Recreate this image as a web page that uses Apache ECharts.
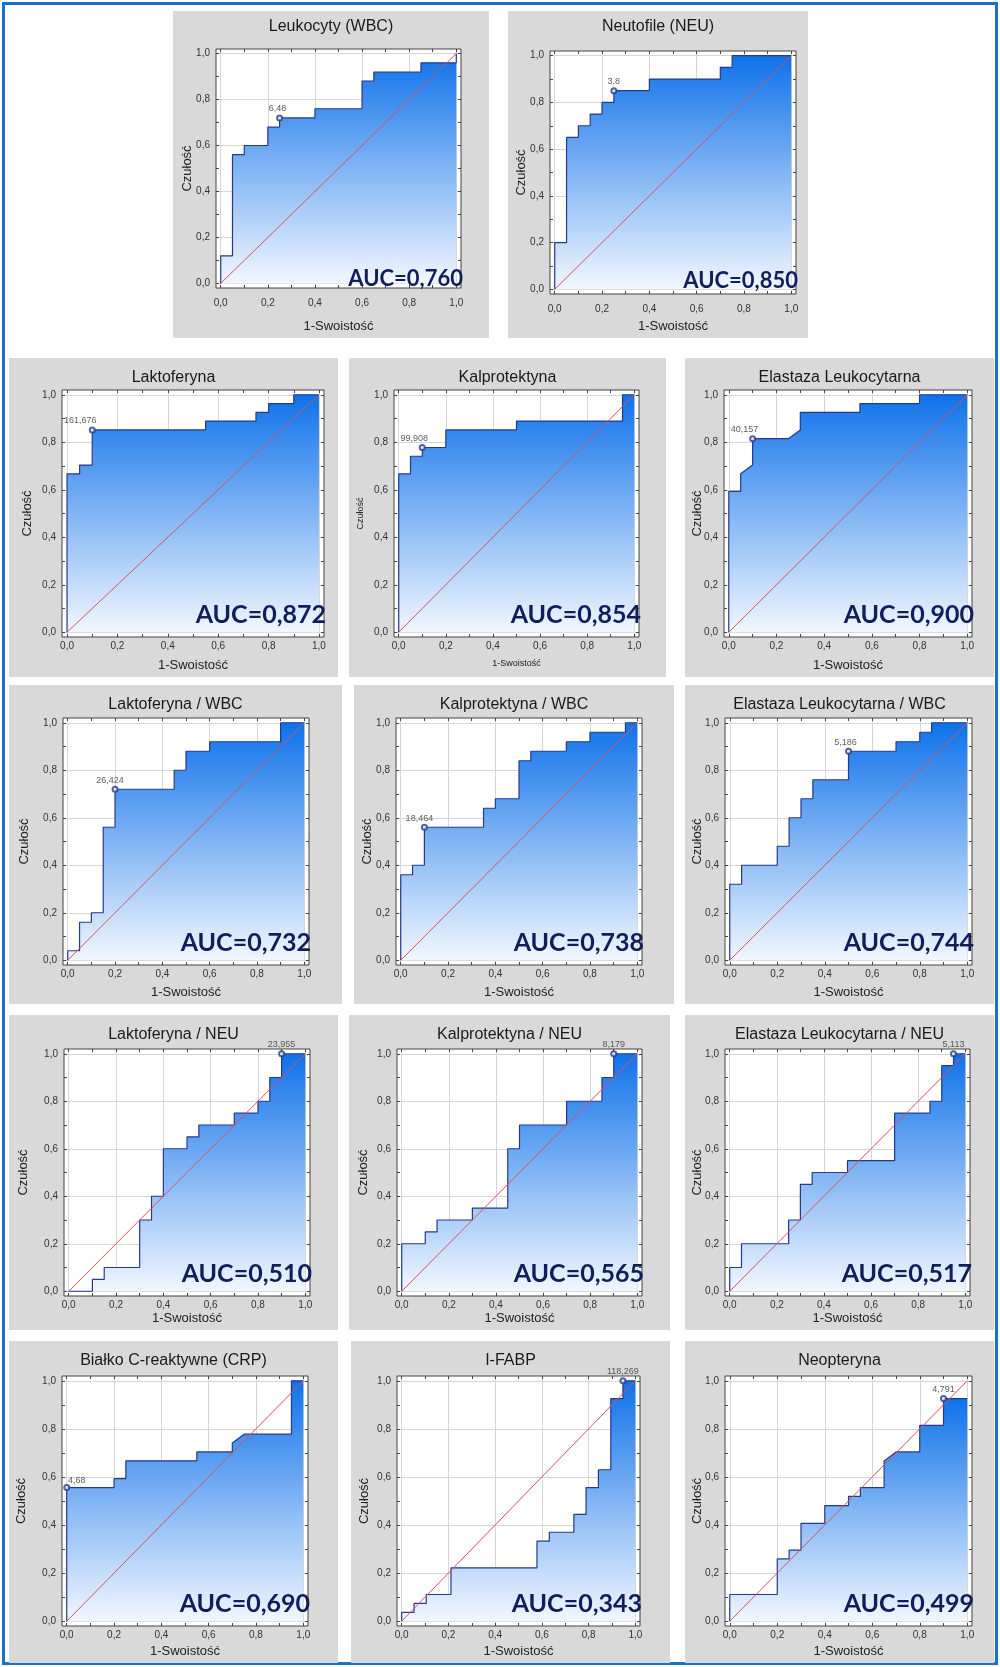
<!DOCTYPE html>
<html>
<head>
<meta charset="utf-8">
<script src="https://cdn.jsdelivr.net/npm/echarts@6/dist/echarts.min.js"></script>
<style>
  body { margin: 0; background: #fff; }
  #frame { position: absolute; left: 2px; top: 2px; width: 990px; height: 1657px; border: 3px solid #1a73c8; }
  .panel { position: absolute; background: #d9d9d9; }
</style>
</head>
<body>
<div id="frame"></div>
<script>
// ROC curves: x = 1-Swoistość, y = Czułość
var leukX = [0, 0, 0.05, 0.05, 0.10, 0.10, 0.20, 0.20, 0.25, 0.25, 0.40, 0.40, 0.60, 0.60, 0.65, 0.65, 0.85, 0.85, 1.0, 1.0];
var leukY = [0, 0.12, 0.12, 0.56, 0.56, 0.60, 0.60, 0.68, 0.68, 0.72, 0.72, 0.76, 0.76, 0.88, 0.88, 0.92, 0.92, 0.96, 0.96, 1.0];
var neuX = [0, 0, 0.05, 0.05, 0.10, 0.10, 0.15, 0.15, 0.20, 0.20, 0.25, 0.25, 0.40, 0.40, 0.70, 0.70, 0.75, 0.75, 1.0];
var neuY = [0, 0.20, 0.20, 0.65, 0.65, 0.70, 0.70, 0.75, 0.75, 0.80, 0.80, 0.85, 0.85, 0.90, 0.90, 0.95, 0.95, 1.0, 1.0];
var laktX = [0, 0, 0.05, 0.05, 0.10, 0.10, 0.55, 0.55, 0.75, 0.75, 0.80, 0.80, 0.90, 0.90, 1.0];
var laktY = [0, 0.667, 0.667, 0.704, 0.704, 0.852, 0.852, 0.889, 0.889, 0.926, 0.926, 0.963, 0.963, 1.0, 1.0];
var kalpX = [0, 0, 0.05, 0.05, 0.10, 0.10, 0.20, 0.20, 0.50, 0.50, 0.95, 0.95, 1.0];
var kalpY = [0, 0.667, 0.667, 0.741, 0.741, 0.778, 0.778, 0.852, 0.852, 0.889, 0.889, 1.0, 1.0];
var elastX = [0, 0, 0.05, 0.05, 0.10, 0.10, 0.25, 0.30, 0.30, 0.55, 0.55, 0.80, 0.80, 1.0];
var elastY = [0, 0.593, 0.593, 0.667, 0.704, 0.815, 0.815, 0.852, 0.926, 0.926, 0.963, 0.963, 1.0, 1.0];
var laktWbcX = [0, 0, 0.05, 0.05, 0.10, 0.10, 0.15, 0.15, 0.20, 0.20, 0.45, 0.45, 0.50, 0.50, 0.60, 0.60, 0.90, 0.90, 1.0];
var laktWbcY = [0, 0.04, 0.04, 0.16, 0.16, 0.20, 0.20, 0.56, 0.56, 0.72, 0.72, 0.80, 0.80, 0.88, 0.88, 0.92, 0.92, 1.0, 1.0];
var kalpWbcX = [0, 0, 0.05, 0.05, 0.10, 0.10, 0.35, 0.35, 0.40, 0.40, 0.50, 0.50, 0.55, 0.55, 0.70, 0.70, 0.80, 0.80, 0.95, 0.95, 1.0];
var kalpWbcY = [0, 0.36, 0.36, 0.40, 0.40, 0.56, 0.56, 0.64, 0.64, 0.68, 0.68, 0.84, 0.84, 0.88, 0.88, 0.92, 0.92, 0.96, 0.96, 1.0, 1.0];
var elastWbcX = [0, 0, 0.05, 0.05, 0.20, 0.20, 0.25, 0.25, 0.30, 0.30, 0.35, 0.35, 0.50, 0.50, 0.70, 0.70, 0.80, 0.80, 0.85, 0.85, 1.0];
var elastWbcY = [0, 0.32, 0.32, 0.40, 0.40, 0.48, 0.48, 0.60, 0.60, 0.68, 0.68, 0.76, 0.76, 0.88, 0.88, 0.92, 0.92, 0.96, 0.96, 1.0, 1.0];
var laktNeuX = [0, 0.10, 0.10, 0.15, 0.15, 0.30, 0.30, 0.35, 0.35, 0.40, 0.40, 0.50, 0.50, 0.55, 0.55, 0.70, 0.70, 0.80, 0.80, 0.85, 0.85, 0.90, 0.90, 1.0];
var laktNeuY = [0, 0, 0.05, 0.05, 0.10, 0.10, 0.30, 0.30, 0.40, 0.40, 0.60, 0.60, 0.65, 0.65, 0.70, 0.70, 0.75, 0.75, 0.80, 0.80, 0.90, 0.90, 1.0, 1.0];
var kalpNeuX = [0, 0, 0.10, 0.10, 0.15, 0.15, 0.30, 0.30, 0.45, 0.45, 0.50, 0.50, 0.70, 0.70, 0.85, 0.85, 0.90, 0.90, 1.0];
var kalpNeuY = [0, 0.20, 0.20, 0.25, 0.25, 0.30, 0.30, 0.35, 0.35, 0.60, 0.60, 0.70, 0.70, 0.80, 0.80, 0.90, 0.90, 1.0, 1.0];
var elastNeuX = [0, 0, 0.05, 0.05, 0.25, 0.25, 0.30, 0.30, 0.35, 0.35, 0.50, 0.50, 0.70, 0.70, 0.85, 0.85, 0.90, 0.90, 0.95, 0.95, 1.0];
var elastNeuY = [0, 0.10, 0.10, 0.20, 0.20, 0.30, 0.30, 0.45, 0.45, 0.50, 0.50, 0.55, 0.55, 0.75, 0.75, 0.80, 0.80, 0.95, 0.95, 1.0, 1.0];
var crpX = [0, 0, 0.20, 0.20, 0.25, 0.25, 0.55, 0.55, 0.70, 0.70, 0.75, 0.95, 0.95, 1.0];
var crpY = [0, 0.556, 0.556, 0.593, 0.593, 0.667, 0.667, 0.704, 0.704, 0.741, 0.778, 0.778, 1.0, 1.0];
var fabpX = [0, 0, 0.053, 0.053, 0.105, 0.105, 0.211, 0.211, 0.579, 0.579, 0.632, 0.632, 0.737, 0.737, 0.789, 0.789, 0.842, 0.842, 0.895, 0.895, 0.947, 0.947, 1.0];
var fabpY = [0, 0.037, 0.037, 0.074, 0.074, 0.111, 0.111, 0.222, 0.222, 0.333, 0.333, 0.370, 0.370, 0.444, 0.444, 0.556, 0.556, 0.630, 0.630, 0.926, 0.926, 1.0, 1.0];
var neoX = [0, 0, 0.20, 0.20, 0.25, 0.25, 0.30, 0.30, 0.40, 0.40, 0.50, 0.50, 0.55, 0.55, 0.65, 0.65, 0.70, 0.80, 0.80, 0.90, 0.90, 1.0];
var neoY = [0, 0.111, 0.111, 0.259, 0.259, 0.296, 0.296, 0.407, 0.407, 0.481, 0.481, 0.519, 0.519, 0.556, 0.556, 0.667, 0.704, 0.704, 0.815, 0.815, 0.926, 0.926];

var titles = ['Leukocyty (WBC)', 'Neutofile (NEU)', 'Laktoferyna', 'Kalprotektyna', 'Elastaza Leukocytarna',
  'Laktoferyna / WBC', 'Kalprotektyna / WBC', 'Elastaza Leukocytarna / WBC',
  'Laktoferyna / NEU', 'Kalprotektyna / NEU', 'Elastaza Leukocytarna / NEU',
  'Białko C-reaktywne (CRP)', 'I-FABP', 'Neopteryna'];
var aucLabels = ['AUC=0,760', 'AUC=0,850', 'AUC=0,872', 'AUC=0,854', 'AUC=0,900',
  'AUC=0,732', 'AUC=0,738', 'AUC=0,744', 'AUC=0,510', 'AUC=0,565', 'AUC=0,517',
  'AUC=0,690', 'AUC=0,343', 'AUC=0,499'];
// optimal cut-off points
var cutX = [0.25, 0.25, 0.10, 0.10, 0.10, 0.20, 0.10, 0.50, 0.90, 0.90, 0.95, 0, 0.947, 0.90];
var cutY = [0.72, 0.85, 0.852, 0.778, 0.815, 0.72, 0.56, 0.88, 1.0, 1.0, 1.0, 0.556, 1.0, 0.926];
var cutLabels = ['6,48', '3,8', '161,676', '99,908', '40,157', '26,424', '18,464', '5,186',
  '23,955', '8,179', '5,113', '4,68', '118,269', '4,791'];
var xCurves = [leukX, neuX, laktX, kalpX, elastX, laktWbcX, kalpWbcX, elastWbcX, laktNeuX, kalpNeuX, elastNeuX, crpX, fabpX, neoX];
var yCurves = [leukY, neuY, laktY, kalpY, elastY, laktWbcY, kalpWbcY, elastWbcY, laktNeuY, kalpNeuY, elastNeuY, crpY, fabpY, neoY];

var tickLabels = [0, 0.2, 0.4, 0.6, 0.8, 1];
var fineTicks = [0, 0.1, 0.2, 0.3, 0.4, 0.5, 0.6, 0.7, 0.8, 0.9, 1];

// panel box: left, top, width, height, grid left, right, top, bottom, y-name centre from panel left
var boxes = [
  [173, 11, 316, 327, 43, 28, 38, 50, 14],
  [508, 11, 300, 327, 42, 12, 40, 44, 13],
  [9, 358, 329, 319, 53, 14, 32, 40, 18],
  [349, 358, 317, 319, 45, 27, 32, 40, 12],
  [685, 358, 309, 319, 39, 22, 32, 40, 12],
  [9, 685, 333, 319, 54, 33, 33, 39, 15],
  [354, 685, 320, 319, 42, 32, 33, 39, 13],
  [685, 685, 309, 319, 40, 22, 33, 39, 12],
  [9, 1015, 329, 315, 55, 28, 34, 34, 14],
  [349, 1015, 321, 315, 48, 28, 34, 34, 14],
  [685, 1015, 309, 315, 40, 24, 34, 34, 12],
  [9, 1341, 329, 322, 53, 30, 35, 37, 12],
  [351, 1341, 319, 322, 46, 30, 35, 37, 13],
  [685, 1341, 309, 322, 40, 22, 35, 37, 12]
];
var cutOffsets = [[-2, 0], [0, 0], [-12, 0], [-8, 0], [-8, 0], [-5, 0], [-5, 0], [-3, 0],
  [0, 0], [0, 0], [0, 0], [10, 2], [0, 0], [0, 0]];
// distance of the AUC text above the grid bottom
var aucLift = [-2, 2, 10, 10, 10, 10, 10, 10, 10, 10, 10, 10, 10, 10];

var FONT = 'Liberation Sans';

function fmt(v) {
  return v.toFixed(1).replace('.', ',');
}

function axisBase(pos) {
  return {
    type: 'value', min: -0.02, max: 1.02, position: pos,
    nameMoveOverlap: false,
    axisLine: { show: false, onZero: false },
    axisTick: { show: true, inside: true, length: 3, customValues: fineTicks, lineStyle: { color: '#444' } },
    axisLabel: { show: false },
    splitLine: { show: false }
  };
}

function gridAxis(pos) {
  var a = axisBase(pos);
  a.axisTick = { show: false, customValues: tickLabels };
  a.splitLine = { show: true, lineStyle: { color: '#d6d6d6', width: 1 } };
  return a;
}

function buildOption(i, b) {
  var pts = xCurves[i].map(function (x, k) { return [x, yCurves[i][k]]; });
  var nameSize = i === 3 ? 9 : 13;
  var topRow = i < 2;

  var xMain = axisBase('bottom');
  xMain.name = '1-Swoistość';
  xMain.nameLocation = 'middle';
  xMain.nameGap = b[7] - 18;
  xMain.nameTextStyle = { fontFamily: FONT, fontSize: nameSize, color: '#222' };
  xMain.axisLabel = { show: true, customValues: tickLabels, formatter: fmt, fontFamily: FONT, fontSize: 10, color: '#333', margin: topRow ? 10 : 4 };

  var yMain = axisBase('left');
  yMain.name = 'Czułość';
  yMain.nameLocation = 'middle';
  yMain.nameGap = b[4] - b[8] - nameSize / 2;
  yMain.nameTextStyle = { fontFamily: FONT, fontSize: nameSize, color: '#222' };
  yMain.axisLabel = { show: true, customValues: tickLabels, formatter: fmt, fontFamily: FONT, fontSize: 10, color: '#333', margin: 6 };

  return {
    animation: false,
    title: {
      text: titles[i], left: 'center', top: topRow ? 3 : 7,
      textStyle: { fontFamily: FONT, fontSize: 16, fontWeight: 'normal', color: '#1a1a1a' }
    },
    grid: {
      left: b[4], right: b[5], top: b[6], bottom: b[7],
      containLabel: false, outerBoundsMode: 'none',
      show: true, backgroundColor: '#ffffff', borderColor: '#444', borderWidth: 1
    },
    xAxis: [xMain, axisBase('top'), gridAxis('bottom')],
    yAxis: [yMain, axisBase('right'), gridAxis('left')],
    series: [
      {
        type: 'line', data: pts, symbol: 'none', z: 3,
        lineStyle: { color: '#27388c', width: 1.2 },
        areaStyle: {
          opacity: 1,
          color: new echarts.graphic.LinearGradient(0, 0, 0, 1, [
            { offset: 0, color: '#0f72ea' },
            { offset: 1, color: '#f2f7ff' }
          ])
        }
      },
      {
        type: 'line', data: [[0, 0], [1, 1]], symbol: 'none', z: 4,
        lineStyle: { color: '#d9505e', width: 1 }
      },
      {
        type: 'scatter', data: [[cutX[i], cutY[i]]], z: 5,
        symbol: 'emptyCircle', symbolSize: 5,
        itemStyle: { color: '#27388c', borderWidth: 1 },
        label: {
          show: true, position: 'top', distance: 1, offset: cutOffsets[i],
          formatter: cutLabels[i], fontFamily: FONT, fontSize: 9, color: '#333'
        }
      }
    ],
    graphic: [{
      type: 'text', right: b[5] - 2, bottom: b[7] + aucLift[i], z: 10,
      style: { text: aucLabels[i], font: topRow ? 'bold 22px Lato' : 'bold 25px Lato', fill: '#111e5c' }
    }]
  };
}

boxes.forEach(function (b, i) {
  var el = document.createElement('div');
  el.className = 'panel';
  el.style.left = b[0] + 'px';
  el.style.top = b[1] + 'px';
  el.style.width = b[2] + 'px';
  el.style.height = b[3] + 'px';
  document.body.appendChild(el);
  var chart = echarts.init(el);
  chart.setOption(buildOption(i, b));
});
</script>
</body>
</html>
